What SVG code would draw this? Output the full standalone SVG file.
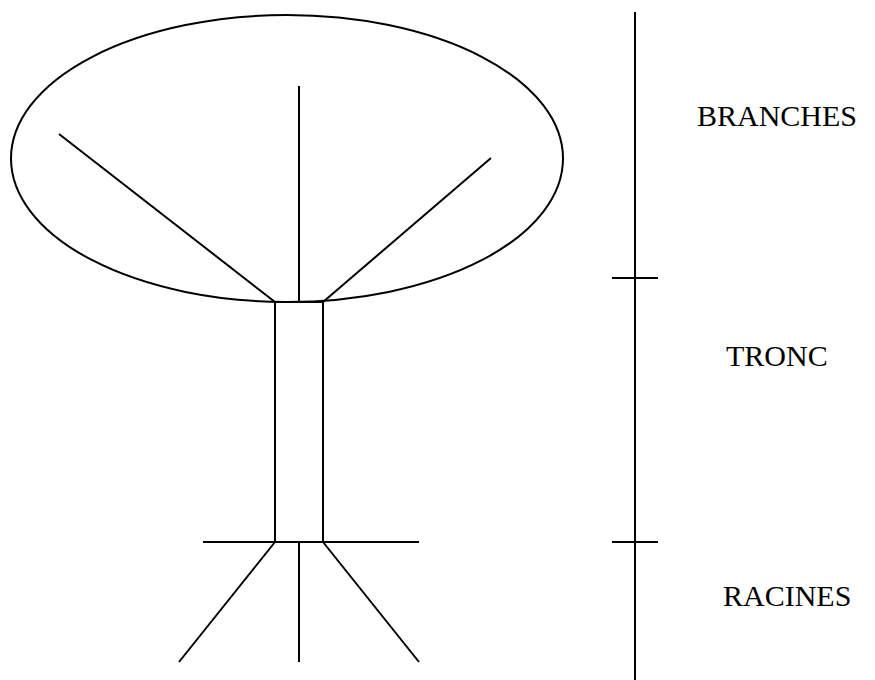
<svg xmlns="http://www.w3.org/2000/svg" width="875" height="680" viewBox="0 0 875 680">
<style>
.s{fill:none;stroke:#000;stroke-width:2;stroke-linecap:butt}
.t{font-family:"Liberation Serif","Times New Roman",serif;font-size:30px;fill:#000}
</style>
<rect width="875" height="680" fill="#fff"/>
<g id="crown">
<ellipse class="s" cx="287" cy="158.5" rx="276" ry="143.5"/>
</g>
<g id="trunk">
<rect class="s" x="275" y="302" width="48" height="240"/>
</g>
<g id="connectors">
<line class="s" x1="275" y1="302" x2="59" y2="134"/>
<line class="s" x1="299" y1="302" x2="299" y2="86"/>
<line class="s" x1="323" y1="302" x2="491" y2="158"/>
<line class="s" x1="203" y1="542" x2="419" y2="542"/>
<line class="s" x1="275" y1="542" x2="179" y2="662"/>
<line class="s" x1="299" y1="542" x2="299" y2="662"/>
<line class="s" x1="323" y1="542" x2="419" y2="662"/>
</g>
<g id="scale">
<line class="s" x1="635" y1="12" x2="635" y2="680"/>
<line class="s" x1="612" y1="278" x2="658" y2="278"/>
<line class="s" x1="612" y1="542" x2="658" y2="542"/>
</g>
<g id="label-branches"><text class="t" x="697" y="126">BRANCHES</text></g>
<g id="label-tronc"><text class="t" x="726" y="366">TRONC</text></g>
<g id="label-racines"><text class="t" x="723" y="606">RACINES</text></g>
</svg>
